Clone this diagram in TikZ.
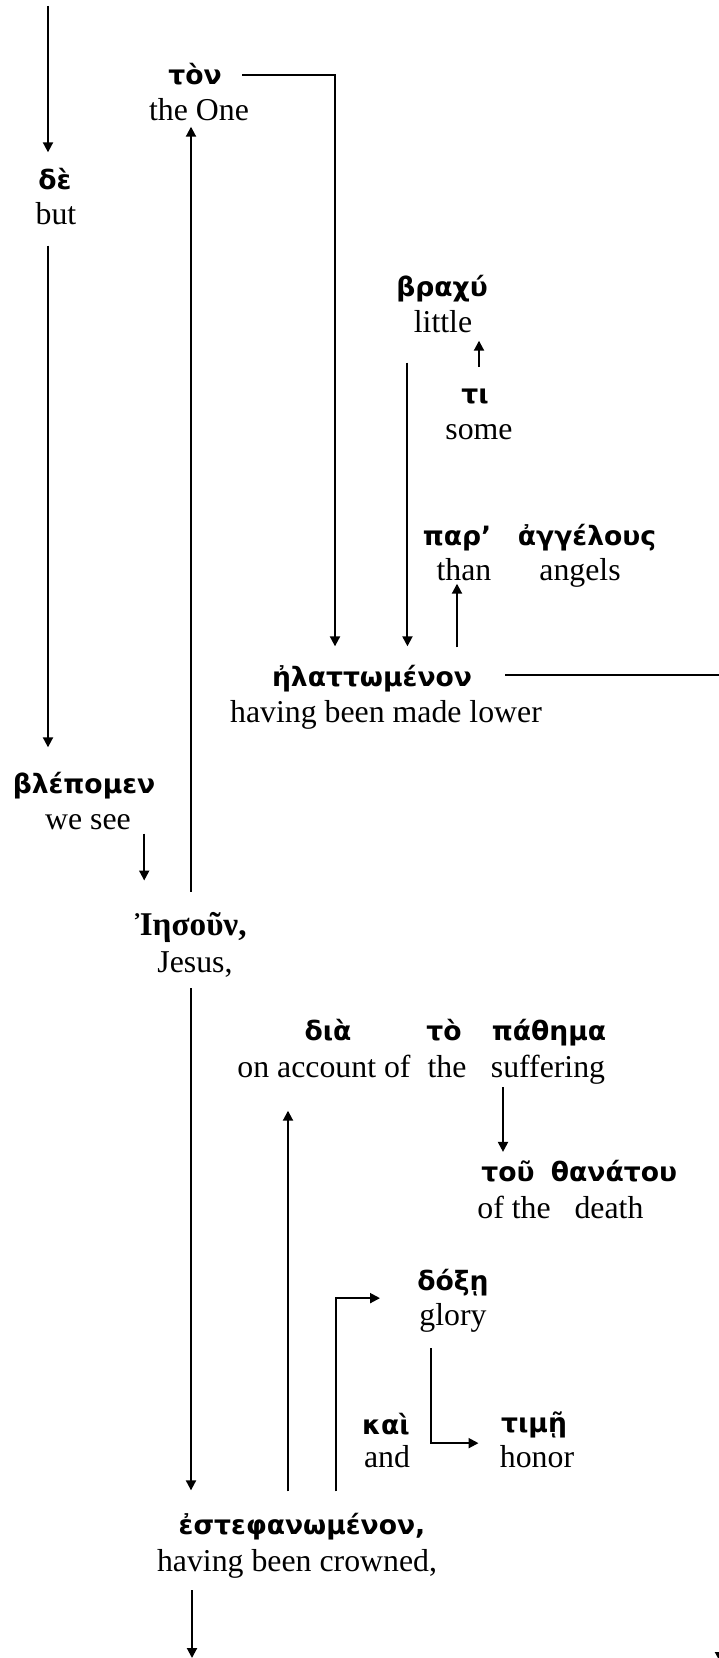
\documentclass[tikz,border=0pt]{standalone}
\usepackage{fontspec}
\setmainfont{Liberation Serif}
\newfontfamily\grk[Script=Greek]{DejaVu Sans}
\newfontfamily\grkserif[Script=Greek]{Liberation Serif}
\usetikzlibrary{calc}
\usetikzlibrary{arrows.meta}

\tikzset{
  gk/.style={anchor=base, inner sep=0pt, font=\grk\bfseries\fontsize{13.3}{15}\selectfont},
  gks/.style={anchor=base, inner sep=0pt, font=\grkserif\bfseries\fontsize{16.6}{18}\selectfont},
  en/.style={anchor=base, inner sep=0pt, font=\fontsize{15.9}{18}\selectfont},
  arr/.style={line width=1pt, black, -{Triangle[width=5pt,length=5pt]}},
}

\begin{document}
\begin{tikzpicture}[x=0.5pt, y=-0.5pt]
        \useasboundingbox (0,0) rectangle (718,1658);
        \node[gk] (de) at (55,190) {δὲ};
        \node[en] (de-e) at (56,225) {but};
        \node[gk] (ton) at (195,85) {τὸν};
        \node[en] (ton-e) at (199,121) {the One};
        \node[gk] (brachy) at (442,297) {βραχύ};
        \node[en] (brachy-e) at (443,333) {little};
        \node[gk] (ti) at (475,403) {τι};
        \node[en] (ti-e) at (479,439) {some};
        \node[gk] (par) at (457,545) {παρ’};
        \node[gk] (angel) at (587,545) {ἀγγέλους};
        \node[en] (par-e) at (464,580) {than};
        \node[en] (angel-e) at (580,580) {angels};
        \node[gk] (hlatt) at (372,686) {ἠλαττωμένον};
        \node[en] (hlatt-e) at (386,722) {having been made lower};
        \node[gk] (blep) at (84,793) {βλέπομεν};
        \node[en] (blep-e) at (88,829) {we see};
        \node[gks] (ies) at (191,935) {Ἰησοῦν,};
        \node[en] (ies-e) at (195,972) {Jesus,};
        \node[gk] (dia) at (328,1040) {διὰ};
        \node[gk] (art) at (444,1040) {τὸ};
        \node[gk] (pathema) at (549,1040) {πάθημα};
        \node[en] (dia-e) at (324,1077) {on account of};
        \node[en] (art-e) at (447,1077) {the};
        \node[en] (pathema-e) at (548,1077) {suffering};
        \node[gk] (tou) at (508,1181) {τοῦ};
        \node[gk] (thanatou) at (614,1181) {θανάτου};
        \node[en] (tou-e) at (514,1218) {of the};
        \node[en] (thanatou-e) at (609,1218) {death};
        \node[gk] (doxe) at (453,1290) {δόξῃ};
        \node[en] (doxe-e) at (453,1325) {glory};
        \node[gk] (kai) at (386,1434) {καὶ};
        \node[en] (kai-e) at (387,1467) {and};
        \node[gk] (time) at (534,1432) {τιμῇ};
        \node[en] (time-e) at (537,1467) {honor};
        \node[gk] (est) at (302,1534) {ἐστεφανωμένον,};
        \node[en] (est-e) at (297,1571) {having been crowned,};
        % free ends and bends
        \coordinate (top) at (48,6);
        \coordinate (down) at (192,1658);
        \coordinate (exit) at (720,1662);
        \coordinate (ws) at ($(blep-e.south east)+(13,0)$);
        \coordinate (br) at ($(brachy-e.south west)+(-6,29)$);
        \coordinate (t1) at ($(ti.north)+(4,-21)$);
        \coordinate (p1) at ($(tou.north)+(-5,0)$);
        \coordinate (e1) at ($(est.north)+(-14,0)$);
        \coordinate (e2) at ($(est.north)+(34,-21)$);
        \coordinate (d1) at ($(doxe-e.south west)+(12,16)$);
        \draw[arr, shorten >=8pt] (top) -- (top |- de.north);
        \draw[arr, shorten <=10pt, shorten >=12pt] (top |- de-e.south) -- (top |- blep.north);
        \draw[arr, shorten <=2pt, shorten >=15.5pt] (ws) -- (ws |- ies.north);
        \draw[arr, shorten <=10pt, shorten >=2.5pt] (ies.north) -- (ies.north |- ton-e.south);
        \draw[arr, shorten >=9pt] ($(ton.east)+(20,0)$) -| ($(hlatt.north)+(-37,0)$);
        \draw[arr, shorten >=9pt] (br) -- (br |- hlatt.north);
        \draw[arr, shorten >=3.5pt] (t1) -- (t1 |- brachy-e.south);
        \draw[arr, shorten <=8.5pt, shorten >=1.5pt] (par |- hlatt.north) -- (par |- par-e.south);
        \draw[arr] ($(hlatt.east)+(33,-3)$) -| (exit);
        \draw[arr, shorten <=1.5pt, shorten >=4pt] (p1 |- pathema-e.south) -- (p1);
        \draw[arr, shorten <=10.5pt, shorten >=16.5pt] (e1) -- (e1 |- dia-e.south);
        \draw[arr] (e2) |- ($(doxe.west)+(-37,16)$);
        \draw[arr] (d1) |- ($(time-e.west)+(-21,-13)$);
        \draw[arr, shorten <=5.5pt, shorten >=11pt] (ies |- ies-e.south) -- (ies |- est.north);
        \draw[arr, shorten <=6pt] (down |- est-e.south) -- (down);
\end{tikzpicture}
\end{document}
